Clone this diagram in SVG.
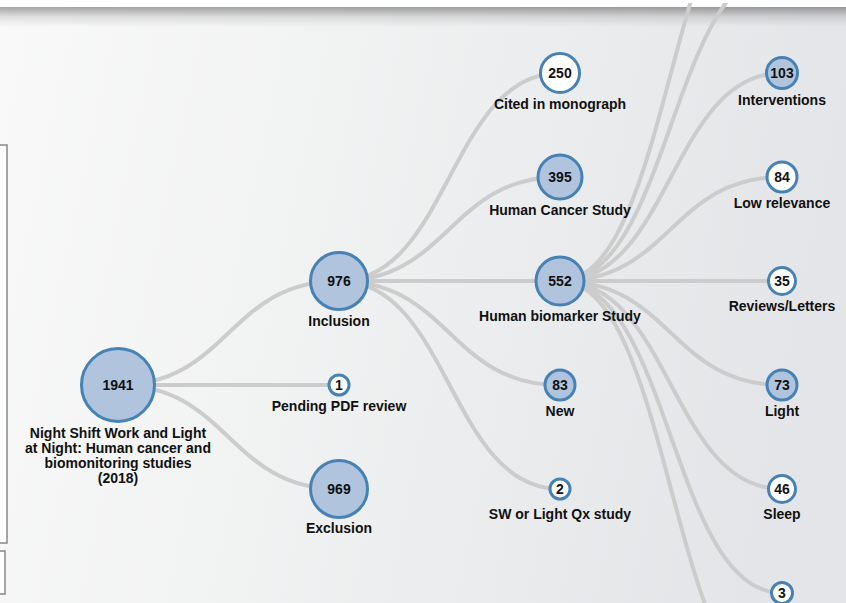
<svg xmlns="http://www.w3.org/2000/svg" width="846" height="603" viewBox="0 0 846 603">
<defs>
<linearGradient id="bg" x1="0" y1="0" x2="1" y2="0.15">
<stop offset="0" stop-color="#f9f9f9"/>
<stop offset="0.4" stop-color="#f1f2f2"/>
<stop offset="1" stop-color="#e4e5e8"/>
</linearGradient>
<linearGradient id="shadow" x1="0" y1="0" x2="0" y2="1">
<stop offset="0" stop-color="#000" stop-opacity="0.34"/>
<stop offset="0.5" stop-color="#000" stop-opacity="0.1"/>
<stop offset="1" stop-color="#000" stop-opacity="0"/>
</linearGradient>
<clipPath id="clip"><rect x="0" y="3" width="846" height="600"/></clipPath>
</defs>
<style>
.link{fill:none;stroke:#cccccc;stroke-width:4}
.node circle{stroke:#4682b4;stroke-width:3}
.filled circle{fill:#b0c4de}
.empty circle{fill:#ffffff}
.node text{font-family:"Liberation Sans",Arial,sans-serif;font-weight:bold;font-size:14px;fill:#111;text-anchor:middle}
.box{fill:#ffffff;stroke:#888888;stroke-width:1.5}
</style>
<rect x="0" y="0" width="846" height="603" fill="url(#bg)"/>
<rect x="0" y="0" width="846" height="7" fill="#ffffff"/>
<rect x="0" y="7" width="846" height="20" fill="url(#shadow)"/>
<rect class="box" x="-10" y="145" width="17" height="398"/>
<rect class="box" x="-10" y="551" width="15" height="43"/>
<g id="links" clip-path="url(#clip)">
<path class="link" d="M118,385C228.5,385 228.5,281 339,281"/>
<path class="link" d="M118,385C228.5,385 228.5,385 339,385"/>
<path class="link" d="M118,385C228.5,385 228.5,489 339,489"/>
<path class="link" d="M339,281C449.5,281 449.5,73 560,73"/>
<path class="link" d="M339,281C449.5,281 449.5,177 560,177"/>
<path class="link" d="M339,281C449.5,281 449.5,281 560,281"/>
<path class="link" d="M339,281C449.5,281 449.5,385 560,385"/>
<path class="link" d="M339,281C449.5,281 449.5,489 560,489"/>
<path class="link" d="M560,281C671,281 671,-135 782,-135"/>
<path class="link" d="M560,281C671,281 671,-31 782,-31"/>
<path class="link" d="M560,281C671,281 671,73 782,73"/>
<path class="link" d="M560,281C671,281 671,177 782,177"/>
<path class="link" d="M560,281C671,281 671,281 782,281"/>
<path class="link" d="M560,281C671,281 671,385 782,385"/>
<path class="link" d="M560,281C671,281 671,489 782,489"/>
<path class="link" d="M560,281C671,281 671,593 782,593"/>
<path class="link" d="M560,281C671,281 671,697 782,697"/>
</g>
<g id="n1941" class="node filled"><circle cx="118" cy="385" r="36.5"/><text x="118" y="390">1941</text>
<text x="118" y="438">Night Shift Work and Light</text><text x="118" y="453">at Night: Human cancer and</text><text x="118" y="468">biomonitoring studies</text><text x="118" y="483">(2018)</text></g>
<g id="n976" class="node filled"><circle cx="339" cy="281" r="28.5"/><text x="339" y="286">976</text><text x="339" y="326">Inclusion</text></g>
<g id="n1" class="node empty"><circle cx="339" cy="385" r="10"/><text x="339" y="390">1</text><text x="339" y="411">Pending PDF review</text></g>
<g id="n969" class="node filled"><circle cx="339" cy="489" r="28.5"/><text x="339" y="494">969</text><text x="339" y="533">Exclusion</text></g>
<g id="n250" class="node empty"><circle cx="560" cy="73" r="19.5"/><text x="560" y="78">250</text><text x="560" y="108.5">Cited in monograph</text></g>
<g id="n395" class="node filled"><circle cx="560" cy="177" r="22"/><text x="560" y="182">395</text><text x="560" y="215">Human Cancer Study</text></g>
<g id="n552" class="node filled"><circle cx="560" cy="281" r="24"/><text x="560" y="286">552</text><text x="560" y="321">Human biomarker Study</text></g>
<g id="n83" class="node filled"><circle cx="560" cy="385" r="15"/><text x="560" y="390">83</text><text x="560" y="416">New</text></g>
<g id="n2" class="node empty"><circle cx="560" cy="489" r="10"/><text x="560" y="494">2</text><text x="560" y="519">SW or Light Qx study</text></g>
<g id="n103" class="node filled"><circle cx="782" cy="73" r="15.5"/><text x="782" y="78">103</text><text x="782" y="105">Interventions</text></g>
<g id="n84" class="node empty"><circle cx="782" cy="177" r="15"/><text x="782" y="182">84</text><text x="782" y="208">Low relevance</text></g>
<g id="n35" class="node empty"><circle cx="782" cy="281" r="13.5"/><text x="782" y="286">35</text><text x="782" y="311">Reviews/Letters</text></g>
<g id="n73" class="node filled"><circle cx="782" cy="385" r="15"/><text x="782" y="390">73</text><text x="782" y="416">Light</text></g>
<g id="n46" class="node empty"><circle cx="782" cy="489" r="13.5"/><text x="782" y="494">46</text><text x="782" y="519">Sleep</text></g>
<g id="n3" class="node empty"><circle cx="782" cy="593" r="10.5"/><text x="782" y="598">3</text></g>
</svg>
